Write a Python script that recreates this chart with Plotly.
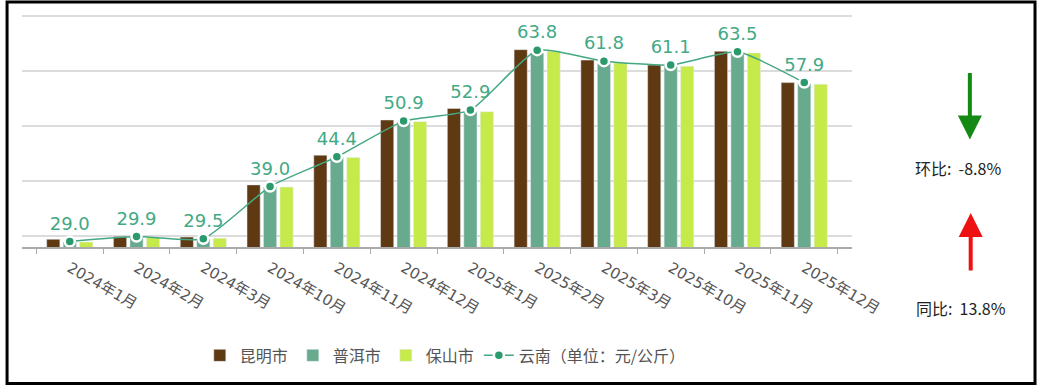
import plotly.graph_objects as go

categories = ["2024年1月", "2024年2月", "2024年3月", "2024年10月", "2024年11月", "2024年12月",
              "2025年1月", "2025年2月", "2025年3月", "2025年10月", "2025年11月", "2025年12月"]
kunming = [29.4, 29.9, 29.8, 39.3, 44.7, 51.1, 53.2, 63.9, 62.0, 61.1, 63.6, 57.9]
puer = [29.0, 29.8, 29.5, 38.9, 44.3, 50.8, 52.6, 63.3, 61.4, 60.9, 63.4, 57.8]
baoshan = [28.9, 29.7, 29.6, 38.9, 44.3, 50.8, 52.6, 63.6, 61.5, 60.9, 63.3, 57.6]
yunnan = [29.0, 29.9, 29.5, 39.0, 44.4, 50.9, 52.9, 63.8, 61.8, 61.1, 63.5, 57.9]
mom_text = "环比:  -8.8%"
yoy_text = "同比:  13.8%"

FONT = "DejaVu Sans, Noto Sans CJK SC, sans-serif"
CJK = "Noto Sans CJK SC, sans-serif"

fig = go.Figure()
fig.add_trace(go.Bar(name="昆明市", x=categories, y=kunming, marker_color="#5e3912"))
fig.add_trace(go.Bar(name="普洱市", x=categories, y=puer, marker_color="#68aa8d"))
fig.add_trace(go.Bar(name="保山市", x=categories, y=baoshan, marker_color="#c6ea4a"))
fig.add_trace(go.Scatter(
    name="云南（单位：元/公斤）", x=categories, y=yunnan, mode="lines+markers+text",
    line=dict(color="#45a882", width=1.5, shape="spline", smoothing=0.5),
    marker=dict(size=10, color="#2a9a6c", line=dict(color="white", width=2.5)),
    text=[f"{v:.1f}" for v in yunnan], textposition="top center",
    textfont=dict(size=18, color="#43a985", family=FONT),
))

fig.update_layout(
    width=1040, height=391,
    margin=dict(l=22, r=188, t=15, b=144),
    paper_bgcolor="white", plot_bgcolor="white",
    barmode="group", bargap=0.26, bargroupgap=0.2,
    showlegend=True,
    legend=dict(orientation="h", x=0.51, xanchor="center", y=-0.4675, yanchor="middle",
                font=dict(size=16, color="#555", family=CJK), itemwidth=30,
                traceorder="normal"),
    font=dict(family=FONT),
)
fig.update_xaxes(
    type="category", tickangle=30, tickson="boundaries", ticks="outside", ticklen=5,
    tickcolor="#aaa", showline=True, linecolor="#aaa", linewidth=1.5, showgrid=False,
    tickfont=dict(size=15, color="#555", family=FONT), ticklabelstandoff=5,
)
fig.update_yaxes(
    range=[28, 70.2], tick0=30, dtick=10, showticklabels=False, showgrid=True,
    gridcolor="#dcdcdc", gridwidth=1.5, zeroline=False, showline=False,
)

fig.add_annotation(xref="paper", yref="paper", x=1.142, y=0.463, ax=0, ay=-68,
                   showarrow=True, arrowhead=2, arrowsize=1.2, arrowwidth=4,
                   arrowcolor="#148a14", text="")
fig.add_annotation(xref="paper", yref="paper", x=1.143, y=0.147, ax=0, ay=59,
                   showarrow=True, arrowhead=2, arrowsize=1.2, arrowwidth=4,
                   arrowcolor="#ee1111", text="")
fig.add_annotation(xref="paper", yref="paper", x=1.128, y=0.342, showarrow=False,
                   xanchor="center", yanchor="middle",
                   text=mom_text, font=dict(size=16, color="#222", family=CJK))
fig.add_annotation(xref="paper", yref="paper", x=1.131, y=-0.264, showarrow=False,
                   xanchor="center", yanchor="middle",
                   text=yoy_text, font=dict(size=16, color="#222", family=CJK))

fig.add_shape(type="rect", xref="paper", yref="paper",
              x0=-0.018, x1=1.2205, y0=-0.5887, y1=1.0563,
              line=dict(color="black", width=3), layer="above")

fig.write_html("out.html", config={"displayModeBar": False},
               post_script="document.body.style.margin='0';")
